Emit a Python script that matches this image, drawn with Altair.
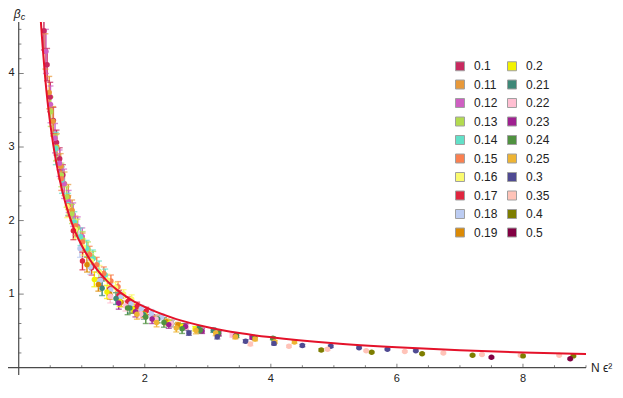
import altair as alt
import pandas as pd

# ---------------- data ----------------
N_VALUES = [30, 35, 40, 45, 50, 55, 60, 65, 70]

EPS_LABELS = ["0.1", "0.11", "0.12", "0.13", "0.14", "0.15", "0.16", "0.17", "0.18", "0.19",
              "0.2", "0.21", "0.22", "0.23", "0.24", "0.25", "0.3", "0.35", "0.4", "0.5"]
EPS_VALUES = [0.10, 0.11, 0.12, 0.13, 0.14, 0.15, 0.16, 0.17, 0.18, 0.19,
              0.20, 0.21, 0.22, 0.23, 0.24, 0.25, 0.30, 0.35, 0.40, 0.50]
EPS_COLORS = ["#C8295F", "#E8993A", "#CF5FC2", "#B3DB4F", "#62E0C8", "#FA8050", "#FAFA6E",
              "#E0253F", "#BCCCF2", "#DB8A05", "#F2F200", "#3E8878", "#FFBFD2", "#9F2090",
              "#509240", "#EEB433", "#4F4A92", "#FFC3B8", "#7D7D00", "#820043"]

# beta_c values (one per N) and their error bars, per epsilon
Y_010 = [None, None, 4.58, 4.12, 3.68, 3.36, 3.06, 2.84, 2.62]
E_010 = [None, None, 0.26, 0.22, 0.20, 0.18, 0.17, 0.15, 0.14]
Y_011 = [None, 4.30, 3.74, 3.35, 3.00, 2.74, 2.50, 2.32, 2.14]
E_011 = [None, 0.24, 0.22, 0.20, 0.18, 0.17, 0.16, 0.17, 0.14]
Y_012 = [4.30, 3.58, 3.12, 2.78, 2.50, 2.26, 2.08, 1.92, 1.78]
E_012 = [0.30, 0.25, 0.20, 0.18, 0.20, 0.15, 0.16, 0.13, 0.12]
Y_013 = [3.48, 2.99, 2.62, 2.32, 2.09, 1.90, 1.74, 1.61, 1.49]
E_013 = [0.20, 0.18, 0.16, 0.14, 0.13, 0.12, 0.11, 0.10, 0.09]
Y_014 = [2.98, 2.55, 2.22, 1.98, 1.78, 1.62, 1.48, 1.31, 1.26]
E_014 = [0.22, 0.18, 0.15, 0.14, 0.12, 0.11, 0.12, 0.14, 0.08]
Y_015 = [2.57, 2.20, 1.93, 1.71, 1.54, 1.40, 1.28, 1.18, 1.10]
E_015 = [0.16, 0.14, 0.13, 0.12, 0.11, 0.10, 0.09, 0.08, 0.07]
Y_016 = [2.19, 1.88, 1.64, 1.45, 1.30, 1.19, 1.09, 1.00, 0.93]
E_016 = [0.15, 0.13, 0.11, 0.10, 0.09, 0.08, 0.07, 0.06, 0.06]
Y_017 = [1.86, 1.45, 1.36, 1.20, 1.07, 0.98, 0.90, 0.83, 0.77]
E_017 = [0.12, 0.12, 0.10, 0.09, 0.08, 0.07, 0.06, 0.06, 0.05]
Y_018 = [1.62, 1.37, 1.19, 1.06, 0.96, 0.87, 0.80, 0.74, 0.69]
E_018 = [0.12, 0.10, 0.09, 0.08, 0.07, 0.06, 0.05, 0.05, 0.04]
Y_019 = [1.40, 1.13, 1.00, 0.89, 0.80, 0.73, 0.67, 0.62, 0.58]
E_019 = [0.10, 0.09, 0.07, 0.06, 0.06, 0.05, 0.04, 0.04, 0.035]
Y_020 = [1.20, 1.03, 0.90, 0.80, 0.72, 0.66, 0.61, 0.56, 0.53]
E_020 = [0.10, 0.09, 0.07, 0.06, 0.05, 0.05, 0.04, 0.035, 0.03]
Y_021 = [1.08, 0.94, 0.81, 0.72, 0.66, 0.60, 0.55, 0.54, 0.51]
E_021 = [0.10, 0.08, 0.07, 0.06, 0.05, 0.045, 0.04, 0.03, 0.03]
Y_022 = [0.97, 0.84, 0.73, 0.66, 0.60, 0.55, 0.51, 0.47, 0.44]
E_022 = [0.09, 0.07, 0.06, 0.05, 0.045, 0.04, 0.035, 0.03, 0.025]
Y_023 = [0.88, 0.76, 0.66, 0.585, 0.56, 0.50, 0.46, 0.43, 0.41]
E_023 = [0.085, 0.07, 0.06, 0.05, 0.04, 0.035, 0.03, 0.025, 0.02]
Y_024 = [0.81, 0.69, 0.615, 0.53, 0.51, 0.47, 0.44, 0.41, 0.40]
E_024 = [0.09, 0.09, 0.065, 0.065, 0.04, 0.035, 0.03, 0.025, 0.02]
Y_025 = [0.725, 0.615, 0.54, 0.505, 0.47, 0.42, 0.39, 0.35, 0.35]
E_025 = [0.066, 0.06, 0.055, 0.045, 0.035, 0.03, 0.025, 0.02, 0.02]
Y_030 = [0.47, 0.42, 0.36, 0.33, 0.30, 0.29, 0.27, 0.25, 0.23]
E_030 = [0.03, 0.03, 0.02, 0.02, 0.015, 0.015, 0.01, 0.01, 0.01]
Y_035 = [0.32, 0.29, 0.25, 0.23, 0.22, 0.20, 0.18, 0.17, 0.17]
E_035 = [0.02, 0.015, 0.015, 0.01, 0.01, 0.01, 0.01, 0.01, 0.01]
Y_040 = [0.24, 0.21, 0.19, 0.17, 0.16, 0.16, None, None, None]
E_040 = [0.015, 0.01, 0.01, 0.01, 0.01, 0.01, None, None, None]
Y_050 = [0.14, 0.12, None, None, None, None, None, None, None]
E_050 = [0.01, 0.01, None, None, None, None, None, None, None]

Y_SERIES = [Y_010, Y_011, Y_012, Y_013, Y_014, Y_015, Y_016, Y_017, Y_018, Y_019,
            Y_020, Y_021, Y_022, Y_023, Y_024, Y_025, Y_030, Y_035, Y_040, Y_050]
E_SERIES = [E_010, E_011, E_012, E_013, E_014, E_015, E_016, E_017, E_018, E_019,
            E_020, E_021, E_022, E_023, E_024, E_025, E_030, E_035, E_040, E_050]

# red fit curve
CURVE_X = [0.35, 0.38, 0.42, 0.46, 0.5, 0.55, 0.6, 0.7, 0.8, 0.9, 1.0, 1.2, 1.4, 1.6, 1.8,
           2.0, 2.5, 3.0, 3.5, 4.0, 5.0, 6.0, 7.0, 8.0, 9.0]
CURVE_Y = [4.72, 4.36, 3.94, 3.60, 3.32, 3.02, 2.77, 2.37, 2.07, 1.84, 1.66, 1.38, 1.18, 1.03,
           0.915, 0.825, 0.66, 0.55, 0.47, 0.413, 0.331, 0.276, 0.236, 0.206, 0.184]

# axis ticks
X_MAJOR = [2, 4, 6, 8]
X_MINOR = [0.5, 1, 1.5, 2.5, 3, 3.5, 4.5, 5, 5.5, 6.5, 7, 7.5, 8.5, 9]
Y_MAJOR = [1, 2, 3, 4]
Y_MINOR = [0.2, 0.4, 0.6, 0.8, 1.2, 1.4, 1.6, 1.8, 2.2, 2.4, 2.6, 2.8,
           3.2, 3.4, 3.6, 3.8, 4.2, 4.4, 4.6]
X_RANGE = [-0.17, 9.0]
Y_RANGE = [-0.1, 4.7]

# ---------------- tables ----------------
rows = []
for lab, eps, ys, es in zip(EPS_LABELS, EPS_VALUES, Y_SERIES, E_SERIES):
    for n, y, e in zip(N_VALUES, ys, es):
        if y is None:
            continue
        rows.append({"eps": lab, "x": n * eps ** 2, "y": y, "lo": y - e, "hi": y + e})
df = pd.DataFrame(rows)
curve = pd.DataFrame({"x": CURVE_X, "y": CURVE_Y})

xs = alt.Scale(domain=X_RANGE, nice=False, zero=False)
ysc = alt.Scale(domain=Y_RANGE, nice=False, zero=False)
color_scale = alt.Scale(domain=EPS_LABELS, range=EPS_COLORS)

FONT = "Liberation Sans"
AX = "#4a4a4a"

X = lambda f: alt.X(f, type="quantitative", scale=xs, axis=None)
Y = lambda f: alt.Y(f, type="quantitative", scale=ysc, axis=None)

base = alt.Chart(df)
color_nolegend = alt.Color("eps:N", scale=color_scale, legend=None)

bars = base.mark_rule(strokeWidth=1.4, clip=True).encode(
    x=X("x"), y=Y("lo"), y2="hi:Q", color=color_nolegend)
caps = alt.layer(
    base.mark_tick(orient="horizontal", size=6, thickness=1.4, clip=True).encode(
        x=X("x"), y=Y("lo"), color=color_nolegend),
    base.mark_tick(orient="horizontal", size=6, thickness=1.4, clip=True).encode(
        x=X("x"), y=Y("hi"), color=color_nolegend),
)
errors = alt.layer(bars, caps)

points = base.mark_circle(size=30, opacity=1, clip=True).encode(
    x=X("x"), y=Y("y"),
    color=alt.Color("eps:N", scale=color_scale, legend=alt.Legend(
        title=None, orient="none", legendX=446, legendY=38, columns=2,
        symbolType="square", symbolSize=81, symbolStrokeColor="#a0a0a0",
        symbolStrokeWidth=1, symbolOpacity=1, labelFont=FONT, labelFontSize=12,
        labelColor="#222", labelOffset=8, columnPadding=7, rowPadding=4.5,
        padding=0)))

fit = alt.Chart(curve).mark_line(color="#E4122A", strokeWidth=2, interpolate="monotone",
                                 clip=True).encode(x=X("x"), y=Y("y"))

# custom Mathematica-like axes (crossing at the origin, ticks pointing inward)
xaxis_line = alt.Chart(pd.DataFrame({"a": [X_RANGE[0]], "b": [X_RANGE[1]], "z": [0]})).mark_rule(
    color=AX, strokeWidth=1.2).encode(x=X("a"), x2="b:Q", y=Y("z"))
yaxis_line = alt.Chart(pd.DataFrame({"a": [Y_RANGE[0]], "b": [Y_RANGE[1]], "z": [0]})).mark_rule(
    color=AX, strokeWidth=1.2).encode(y=Y("a"), y2="b:Q", x=X("z"))

xmaj = pd.DataFrame({"v": X_MAJOR, "z": [0] * len(X_MAJOR), "t": [str(v) for v in X_MAJOR]})
ymaj = pd.DataFrame({"v": Y_MAJOR, "z": [0] * len(Y_MAJOR), "t": [str(v) for v in Y_MAJOR]})
xmin_df = pd.DataFrame({"v": X_MINOR, "z": [0] * len(X_MINOR)})
ymin_df = pd.DataFrame({"v": Y_MINOR, "z": [0] * len(Y_MINOR)})

xt_major = alt.Chart(xmaj).mark_tick(orient="vertical", size=4, thickness=1, yOffset=-2,
                                     color=AX).encode(x=X("v"), y=Y("z"))
xt_minor = alt.Chart(xmin_df).mark_tick(orient="vertical", size=2.5, thickness=1,
                                        yOffset=-1.25, color=AX).encode(x=X("v"), y=Y("z"))
yt_major = alt.Chart(ymaj).mark_tick(orient="horizontal", size=5, thickness=1, xOffset=2.5,
                                     color=AX).encode(y=Y("v"), x=X("z"))
yt_minor = alt.Chart(ymin_df).mark_tick(orient="horizontal", size=2.7, thickness=1,
                                        xOffset=1.35, color=AX).encode(y=Y("v"), x=X("z"))
xlabels = alt.Chart(xmaj).mark_text(dy=14, baseline="alphabetic", align="center", font=FONT,
                                    fontSize=11, color="#222").encode(
    x=X("v"), y=Y("z"), text="t:N")
ylabels = alt.Chart(ymaj).mark_text(dx=-4, baseline="middle", align="right", font=FONT,
                                    fontSize=11, color="#222").encode(
    y=Y("v"), x=X("z"), text="t:N")

titles = pd.DataFrame({"px": [X_RANGE[1], 0, 0], "py": [0, Y_RANGE[1], Y_RANGE[1]],
                       "t": ["N ϵ²", "β", "c"]})
xtitle = alt.Chart(titles.iloc[[0]]).mark_text(
    dx=5, align="left", baseline="middle", font=FONT, fontSize=12, color="#222").encode(
    x=X("px"), y=Y("py"), text="t:N")
ytitle_b = alt.Chart(titles.iloc[[1]]).mark_text(
    dx=2, dy=-4.5, align="right", baseline="alphabetic", font=FONT, fontSize=12,
    fontStyle="italic", color="#222").encode(x=X("px"), y=Y("py"), text="t:N")
ytitle_c = alt.Chart(titles.iloc[[2]]).mark_text(
    dx=2, dy=-2, align="left", baseline="alphabetic", font=FONT, fontSize=9,
    fontStyle="italic", color="#222").encode(x=X("px"), y=Y("py"), text="t:N")

chart = alt.layer(
    xaxis_line, yaxis_line, xt_major, xt_minor, yt_major, yt_minor, xlabels, ylabels,
    errors, points, fit, xtitle, ytitle_b, ytitle_c
).resolve_scale(color="independent").properties(
    width=578, height=353,
    padding={"left": 0, "top": 14, "right": 28, "bottom": 9},
    autosize=alt.AutoSizeParams(type="none"),
).configure_view(stroke=None)

chart.save("out.html", embed_options={"renderer": "svg", "actions": False})
